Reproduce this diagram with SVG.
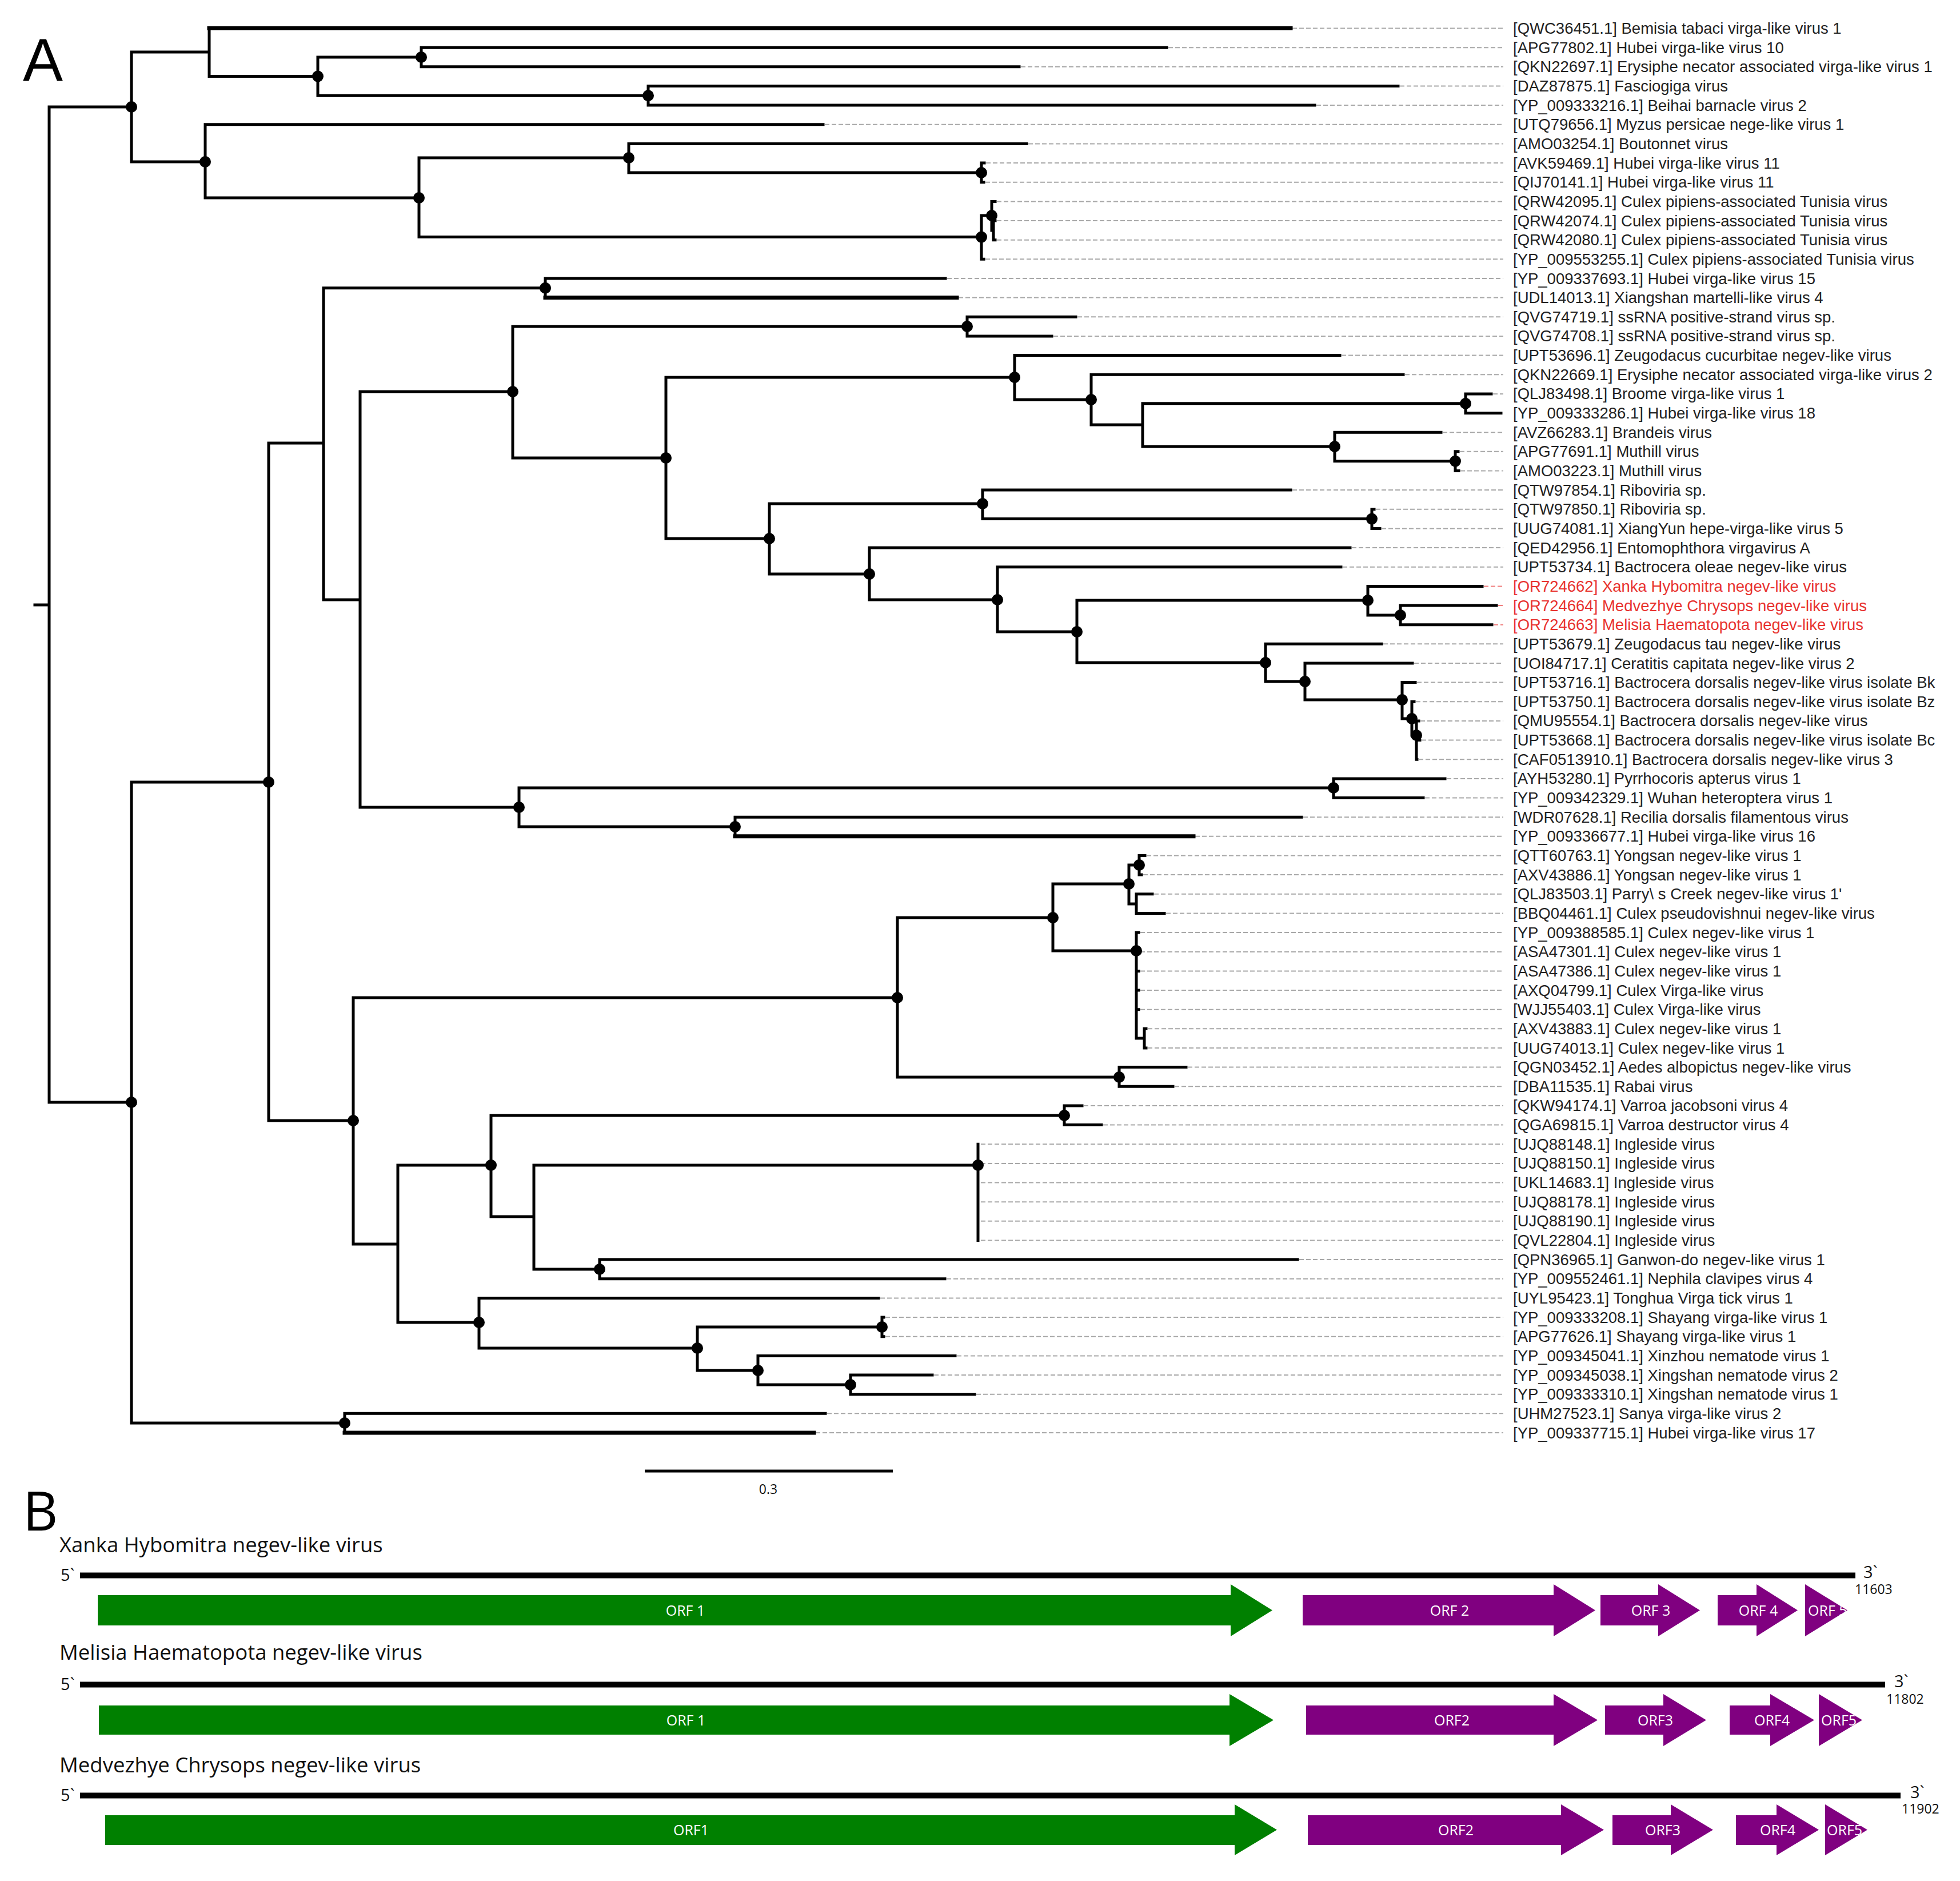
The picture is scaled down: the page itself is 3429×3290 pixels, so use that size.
<svg xmlns="http://www.w3.org/2000/svg" width="3429" height="3290" viewBox="0 0 3429 3290">
<style>
.br{fill:none;stroke:#000;stroke-width:5;stroke-linecap:square}
.thk{fill:none;stroke:#000;stroke-width:7;stroke-linecap:square}
.dot{fill:#000}
.dl{fill:none;stroke:#a8a8a8;stroke-width:2;stroke-dasharray:8 4}
.dlr{fill:none;stroke:#f08080;stroke-width:2;stroke-dasharray:8 4}
.lb{font-family:"Liberation Sans",Arial,sans-serif;font-size:27.5px;fill:#222}
.red{fill:#e8322f}
.ttl{font-family:"Open Sans","Liberation Sans",sans-serif;font-size:36.5px;fill:#111}
.end{font-family:"Open Sans","Liberation Sans",sans-serif;font-size:29px;fill:#111}
.len{font-family:"Open Sans","Liberation Sans",sans-serif;font-size:23px;fill:#111}
.orf{font-family:"Open Sans","Liberation Sans",sans-serif;font-size:25px;fill:#fff;text-anchor:middle}
.orfs{font-family:"Open Sans","Liberation Sans",sans-serif;font-size:25px;fill:#fff}
.g{fill:#008000}
.p{fill:#800080}
.gl{stroke:#000;stroke-width:10;fill:none}
</style>
<defs>
<clipPath id="c5a"><polygon points="3158,2771 3232,2816.5 3158,2862"/></clipPath>
<clipPath id="c5b"><polygon points="3182,2963 3258,3008.5 3182,3054"/></clipPath>
<clipPath id="c5c"><polygon points="3193,3156 3267,3200.5 3193,3245"/></clipPath>
</defs>
<rect width="3429" height="3290" fill="#fff"/>
<text x="40" y="141" font-family="Liberation Sans,Arial,sans-serif" font-size="105" fill="#000">A</text>
<text x="40" y="2677" font-family="Open Sans,Liberation Sans,sans-serif" font-size="95" fill="#000">B</text>

<g id="extensions">
<path class="dl" d="M2261,49.5H2630M2044,83.2H2630M1786,116.8H2630M2449,150.5H2630M2303,184.1H2630M1443,217.8H2630M1799,251.4H2630M1725,285H2630M1724,318.7H2630M1744,352.4H2630M1744,386H2630M1744,419.7H2630M1724,453.3H2630M1657,487H2630M1677,520.6H2630M1885,554.3H2630M1843,587.9H2630M2347,621.6H2630M2458,655.2H2630M2612,688.9H2630M2524,756.2H2630M2554,789.8H2630M2555,823.5H2630M2261,857.1H2630M2407,890.8H2630M2417,924.4H2630M2365,958H2630M2349,991.7H2630M2420,1126.3H2630M2474,1160H2630M2479,1193.6H2630M2477,1227.3H2630M2485,1261H2630M2487,1294.6H2630M2482,1328.2H2630M2531,1361.9H2630M2493,1395.5H2630M2280,1429.2H2630M2091,1462.8H2630M2006,1496.5H2630M2000,1530.1H2630M2019,1563.8H2630M2040,1597.4H2630M1995,1631H2630M1995,1664.7H2630M1995,1698.4H2630M1995,1732H2630M1995,1765.7H2630M2008,1799.3H2630M2008,1833H2630M2078,1866.6H2630M2055,1900.3H2630M1896,1933.9H2630M1930,1967.6H2630M1716,2001.2H2630M1716,2034.9H2630M1716,2068.5H2630M1716,2102.2H2630M1716,2135.8H2630M1716,2169.5H2630M2273,2203.1H2630M1656,2236.8H2630M1540,2270.4H2630M1549,2304H2630M1549,2337.7H2630M1674,2371.4H2630M1634,2405H2630M1708,2438.7H2630M1447,2472.3H2630M1427,2506H2630"/>
<path class="dlr" d="M2596,1025.4H2630M2621,1059H2630M2613,1092.7H2630"/>
</g>

<g id="connectors">
<path class="br" d="M61,1058H86M86,187V1928
M86,187H230M230,91V283
M230,91H366M366,49.5V133.5M366,49.5H2258
M366,133.5H556M556,100V167.3
M556,100H737M737,83.2V116.8M737,83.2H2041M737,116.8H1783
M556,167.3H1134M1134,150.5V184.1M1134,150.5H2446M1134,184.1H2300
M230,283H359M359,217.8V346M359,217.8H1440
M359,346H733M733,276V414.6
M733,276H1100M1100,251.4V302M1100,251.4H1796
M1100,302H1717M1717,285V318.7M1717,285H1722M1717,318.7H1721
M733,414.6H1717M1717,377V453.3M1717,453.3H1721
M1717,377H1735M1735,352.4V403M1735,352.4H1741
M1735,403H1738M1738,386V419.7M1738,386H1741M1738,419.7H1741
M86,1928H230M230,1368V2489
M230,1368H470M470,775V1960
M470,775H566M566,503.8V1049
M566,503.8H954M954,487V520.6M954,487H1654M954,520.6H1674
M566,1049H630M630,685V1412
M630,685H897M897,571V801
M897,571H1692M1692,554.3V587.9M1692,554.3H1882M1692,587.9H1840
M897,801H1165M1165,660V942
M1165,660H1775M1775,621.6V699M1775,621.6H2344
M1775,699H1909M1909,655.2V743M1909,655.2H2455
M1909,743H1999M1999,705.7V781
M1999,705.7H2564M2564,688.9V722.5M2564,688.9H2609M2564,722.5H2626
M1999,781H2335M2335,756.2V806.6M2335,756.2H2521
M2335,806.6H2546M2546,789.8V823.5M2546,789.8H2551M2546,823.5H2552
M1165,942H1346M1346,881V1004
M1346,881H1719M1719,857.1V907.6M1719,857.1H2258
M1719,907.6H2400M2400,890.8V924.4M2400,890.8H2404M2400,924.4H2414
M1346,1004H1521M1521,958V1049M1521,958H2362
M1521,1049H1745M1745,991.7V1105M1745,991.7H2346
M1745,1105H1884M1884,1050V1159
M1884,1050H2393M2393,1025.4V1076M2393,1025.4H2593
M2393,1076H2450M2450,1059V1092.7M2450,1059H2618M2450,1092.7H2610
M1884,1159H2214M2214,1126.3V1192M2214,1126.3H2417
M2214,1192H2283M2283,1160V1224M2283,1160H2471
M2283,1224H2453M2453,1193.6V1257M2453,1193.6H2476
M2453,1257H2470M2470,1227.3V1286M2470,1227.3H2474
M2470,1286H2478M2478,1261V1328.2M2478,1261H2482M2478,1294.6H2484M2478,1328.2H2479
M630,1412H908M908,1378V1446
M908,1378H2333M2333,1361.9V1395.5M2333,1361.9H2528M2333,1395.5H2490
M908,1446H1286M1286,1429.2V1462.8M1286,1429.2H2277
M470,1960H618M618,1745V2176
M618,1745H1570M1570,1605V1884
M1570,1605H1842M1842,1546V1663
M1842,1546H1975M1975,1513V1581
M1975,1513H1993M1993,1496.5V1530.1M1993,1496.5H2003M1993,1530.1H1997
M1975,1581H1988M1988,1563.8V1597.4M1988,1563.8H2016M1988,1597.4H2037
M1842,1663H1988M1988,1631V1816M1988,1631H1992M1988,1664.7H1992M1988,1698.4H1992M1988,1732H1992M1988,1765.7H1992
M1988,1816H2002M2002,1799.3V1833M2002,1799.3H2005M2002,1833H2005
M1570,1884H1958M1958,1866.6V1900.3M1958,1866.6H2075M1958,1900.3H2052
M618,2176H696M696,2038V2313
M696,2038H859M859,1951V2128
M859,1951H1862M1862,1933.9V1967.6M1862,1933.9H1893M1862,1967.6H1927
M859,2128H934M934,2038V2220
M934,2038H1711M1711,2001.2V2169.5
M934,2220H1049M1049,2203.1V2236.8M1049,2203.1H2270M1049,2236.8H1653
M696,2313H838M838,2270.4V2358M838,2270.4H1537
M838,2358H1220M1220,2321V2397
M1220,2321H1543M1543,2304V2337.7M1543,2304H1546M1543,2337.7H1546
M1220,2397H1326M1326,2371.4V2422M1326,2371.4H1671
M1326,2422H1488M1488,2405V2438.7M1488,2405H1631M1488,2438.7H1705
M230,2489H603M603,2472.3V2506M603,2472.3H1444"/>
<path class="thk" d="M366,49.5H2258M954,520.6H1674M1286,1462.8H2088M603,2506H1424"/>
</g>

<g id="internal-nodes">
<circle class="dot" r="10" cx="230" cy="187"/><circle class="dot" r="10" cx="556" cy="133.5"/><circle class="dot" r="10" cx="737" cy="100"/><circle class="dot" r="10" cx="1134" cy="167.3"/><circle class="dot" r="10" cx="359" cy="283"/><circle class="dot" r="10" cx="1100" cy="276"/><circle class="dot" r="10" cx="733" cy="346"/><circle class="dot" r="10" cx="1717" cy="302"/><circle class="dot" r="10" cx="1735" cy="377"/><circle class="dot" r="10" cx="1717" cy="414.6"/><circle class="dot" r="10" cx="954" cy="503.8"/><circle class="dot" r="10" cx="897" cy="685"/><circle class="dot" r="10" cx="1692" cy="571"/><circle class="dot" r="10" cx="1165" cy="801"/><circle class="dot" r="10" cx="1775" cy="660"/><circle class="dot" r="10" cx="1909" cy="699"/><circle class="dot" r="10" cx="2564" cy="705.7"/><circle class="dot" r="10" cx="2335" cy="781"/><circle class="dot" r="10" cx="2546" cy="806.6"/><circle class="dot" r="10" cx="1346" cy="942"/><circle class="dot" r="10" cx="1719" cy="881"/><circle class="dot" r="10" cx="2400" cy="907.6"/><circle class="dot" r="10" cx="1521" cy="1004"/><circle class="dot" r="10" cx="1745" cy="1049"/><circle class="dot" r="10" cx="1884" cy="1105"/><circle class="dot" r="10" cx="2393" cy="1050"/><circle class="dot" r="10" cx="2450" cy="1076"/><circle class="dot" r="10" cx="2214" cy="1159"/><circle class="dot" r="10" cx="2283" cy="1192"/><circle class="dot" r="10" cx="2453" cy="1224"/><circle class="dot" r="10" cx="2470" cy="1257"/><circle class="dot" r="10" cx="2478" cy="1286"/><circle class="dot" r="10" cx="470" cy="1368"/><circle class="dot" r="10" cx="230" cy="1928"/><circle class="dot" r="10" cx="908" cy="1412"/><circle class="dot" r="10" cx="2333" cy="1378"/><circle class="dot" r="10" cx="1286" cy="1446"/><circle class="dot" r="10" cx="618" cy="1960"/><circle class="dot" r="10" cx="1570" cy="1745"/><circle class="dot" r="10" cx="1842" cy="1605"/><circle class="dot" r="10" cx="1975" cy="1546"/><circle class="dot" r="10" cx="1993" cy="1513"/><circle class="dot" r="10" cx="1988" cy="1663"/><circle class="dot" r="10" cx="1958" cy="1884"/><circle class="dot" r="10" cx="859" cy="2038"/><circle class="dot" r="10" cx="1862" cy="1951"/><circle class="dot" r="10" cx="1711" cy="2038"/><circle class="dot" r="10" cx="1049" cy="2220"/><circle class="dot" r="10" cx="838" cy="2313"/><circle class="dot" r="10" cx="1220" cy="2358"/><circle class="dot" r="10" cx="1543" cy="2321"/><circle class="dot" r="10" cx="1326" cy="2397"/><circle class="dot" r="10" cx="1488" cy="2422"/><circle class="dot" r="10" cx="603" cy="2489"/>
</g>

<g id="leaves" class="lb">
<g id="leaf1"><text x="2647" y="59">[QWC36451.1] Bemisia tabaci virga-like virus 1</text></g>
<g id="leaf2"><text x="2647" y="92.7">[APG77802.1] Hubei virga-like virus 10</text></g>
<g id="leaf3"><text x="2647" y="126.3">[QKN22697.1] Erysiphe necator associated virga-like virus 1</text></g>
<g id="leaf4"><text x="2647" y="160">[DAZ87875.1] Fasciogiga virus</text></g>
<g id="leaf5"><text x="2647" y="193.6">[YP_009333216.1] Beihai barnacle virus 2</text></g>
<g id="leaf6"><text x="2647" y="227.3">[UTQ79656.1] Myzus persicae nege-like virus 1</text></g>
<g id="leaf7"><text x="2647" y="260.9">[AMO03254.1] Boutonnet virus</text></g>
<g id="leaf8"><text x="2647" y="294.6">[AVK59469.1] Hubei virga-like virus 11</text></g>
<g id="leaf9"><text x="2647" y="328.2">[QIJ70141.1] Hubei virga-like virus 11</text></g>
<g id="leaf10"><text x="2647" y="361.9">[QRW42095.1] Culex pipiens-associated Tunisia virus</text></g>
<g id="leaf11"><text x="2647" y="395.5">[QRW42074.1] Culex pipiens-associated Tunisia virus</text></g>
<g id="leaf12"><text x="2647" y="429.2">[QRW42080.1] Culex pipiens-associated Tunisia virus</text></g>
<g id="leaf13"><text x="2647" y="462.8">[YP_009553255.1] Culex pipiens-associated Tunisia virus</text></g>
<g id="leaf14"><text x="2647" y="496.5">[YP_009337693.1] Hubei virga-like virus 15</text></g>
<g id="leaf15"><text x="2647" y="530.1">[UDL14013.1] Xiangshan martelli-like virus 4</text></g>
<g id="leaf16"><text x="2647" y="563.8">[QVG74719.1] ssRNA positive-strand virus sp.</text></g>
<g id="leaf17"><text x="2647" y="597.4">[QVG74708.1] ssRNA positive-strand virus sp.</text></g>
<g id="leaf18"><text x="2647" y="631.1">[UPT53696.1] Zeugodacus cucurbitae negev-like virus</text></g>
<g id="leaf19"><text x="2647" y="664.7">[QKN22669.1] Erysiphe necator associated virga-like virus 2</text></g>
<g id="leaf20"><text x="2647" y="698.4">[QLJ83498.1] Broome virga-like virus 1</text></g>
<g id="leaf21"><text x="2647" y="732">[YP_009333286.1] Hubei virga-like virus 18</text></g>
<g id="leaf22"><text x="2647" y="765.7">[AVZ66283.1] Brandeis virus</text></g>
<g id="leaf23"><text x="2647" y="799.3">[APG77691.1] Muthill virus</text></g>
<g id="leaf24"><text x="2647" y="833">[AMO03223.1] Muthill virus</text></g>
<g id="leaf25"><text x="2647" y="866.6">[QTW97854.1] Riboviria sp.</text></g>
<g id="leaf26"><text x="2647" y="900.3">[QTW97850.1] Riboviria sp.</text></g>
<g id="leaf27"><text x="2647" y="933.9">[UUG74081.1] XiangYun hepe-virga-like virus 5</text></g>
<g id="leaf28"><text x="2647" y="967.6">[QED42956.1] Entomophthora virgavirus A</text></g>
<g id="leaf29"><text x="2647" y="1001.2">[UPT53734.1] Bactrocera oleae negev-like virus</text></g>
<g id="leaf30"><text class="red" x="2647" y="1034.9">[OR724662] Xanka Hybomitra negev-like virus</text></g>
<g id="leaf31"><text class="red" x="2647" y="1068.5">[OR724664] Medvezhye Chrysops negev-like virus</text></g>
<g id="leaf32"><text class="red" x="2647" y="1102.2">[OR724663] Melisia Haematopota negev-like virus</text></g>
<g id="leaf33"><text x="2647" y="1135.8">[UPT53679.1] Zeugodacus tau negev-like virus</text></g>
<g id="leaf34"><text x="2647" y="1169.5">[UOI84717.1] Ceratitis capitata negev-like virus 2</text></g>
<g id="leaf35"><text x="2647" y="1203.1">[UPT53716.1] Bactrocera dorsalis negev-like virus isolate Bk</text></g>
<g id="leaf36"><text x="2647" y="1236.8">[UPT53750.1] Bactrocera dorsalis negev-like virus isolate Bz</text></g>
<g id="leaf37"><text x="2647" y="1270.4">[QMU95554.1] Bactrocera dorsalis negev-like virus</text></g>
<g id="leaf38"><text x="2647" y="1304.1">[UPT53668.1] Bactrocera dorsalis negev-like virus isolate Bc</text></g>
<g id="leaf39"><text x="2647" y="1337.7">[CAF0513910.1] Bactrocera dorsalis negev-like virus 3</text></g>
<g id="leaf40"><text x="2647" y="1371.4">[AYH53280.1] Pyrrhocoris apterus virus 1</text></g>
<g id="leaf41"><text x="2647" y="1405">[YP_009342329.1] Wuhan heteroptera virus 1</text></g>
<g id="leaf42"><text x="2647" y="1438.7">[WDR07628.1] Recilia dorsalis filamentous virus</text></g>
<g id="leaf43"><text x="2647" y="1472.3">[YP_009336677.1] Hubei virga-like virus 16</text></g>
<g id="leaf44"><text x="2647" y="1506">[QTT60763.1] Yongsan negev-like virus 1</text></g>
<g id="leaf45"><text x="2647" y="1539.6">[AXV43886.1] Yongsan negev-like virus 1</text></g>
<g id="leaf46"><text x="2647" y="1573.3">[QLJ83503.1] Parry\ s Creek negev-like virus 1'</text></g>
<g id="leaf47"><text x="2647" y="1606.9">[BBQ04461.1] Culex pseudovishnui negev-like virus</text></g>
<g id="leaf48"><text x="2647" y="1640.6">[YP_009388585.1] Culex negev-like virus 1</text></g>
<g id="leaf49"><text x="2647" y="1674.2">[ASA47301.1] Culex negev-like virus 1</text></g>
<g id="leaf50"><text x="2647" y="1707.9">[ASA47386.1] Culex negev-like virus 1</text></g>
<g id="leaf51"><text x="2647" y="1741.5">[AXQ04799.1] Culex Virga-like virus</text></g>
<g id="leaf52"><text x="2647" y="1775.2">[WJJ55403.1] Culex Virga-like virus</text></g>
<g id="leaf53"><text x="2647" y="1808.8">[AXV43883.1] Culex negev-like virus 1</text></g>
<g id="leaf54"><text x="2647" y="1842.5">[UUG74013.1] Culex negev-like virus 1</text></g>
<g id="leaf55"><text x="2647" y="1876.1">[QGN03452.1] Aedes albopictus negev-like virus</text></g>
<g id="leaf56"><text x="2647" y="1909.8">[DBA11535.1] Rabai virus</text></g>
<g id="leaf57"><text x="2647" y="1943.4">[QKW94174.1] Varroa jacobsoni virus 4</text></g>
<g id="leaf58"><text x="2647" y="1977.1">[QGA69815.1] Varroa destructor virus 4</text></g>
<g id="leaf59"><text x="2647" y="2010.7">[UJQ88148.1] Ingleside virus</text></g>
<g id="leaf60"><text x="2647" y="2044.4">[UJQ88150.1] Ingleside virus</text></g>
<g id="leaf61"><text x="2647" y="2078">[UKL14683.1] Ingleside virus</text></g>
<g id="leaf62"><text x="2647" y="2111.7">[UJQ88178.1] Ingleside virus</text></g>
<g id="leaf63"><text x="2647" y="2145.3">[UJQ88190.1] Ingleside virus</text></g>
<g id="leaf64"><text x="2647" y="2179">[QVL22804.1] Ingleside virus</text></g>
<g id="leaf65"><text x="2647" y="2212.6">[QPN36965.1] Ganwon-do negev-like virus 1</text></g>
<g id="leaf66"><text x="2647" y="2246.3">[YP_009552461.1] Nephila clavipes virus 4</text></g>
<g id="leaf67"><text x="2647" y="2279.9">[UYL95423.1] Tonghua Virga tick virus 1</text></g>
<g id="leaf68"><text x="2647" y="2313.6">[YP_009333208.1] Shayang virga-like virus 1</text></g>
<g id="leaf69"><text x="2647" y="2347.2">[APG77626.1] Shayang virga-like virus 1</text></g>
<g id="leaf70"><text x="2647" y="2380.9">[YP_009345041.1] Xinzhou nematode virus 1</text></g>
<g id="leaf71"><text x="2647" y="2414.5">[YP_009345038.1] Xingshan nematode virus 2</text></g>
<g id="leaf72"><text x="2647" y="2448.2">[YP_009333310.1] Xingshan nematode virus 1</text></g>
<g id="leaf73"><text x="2647" y="2481.8">[UHM27523.1] Sanya virga-like virus 2</text></g>
<g id="leaf74"><text x="2647" y="2515.5">[YP_009337715.1] Hubei virga-like virus 17</text></g>
</g>

<g id="scale-bar">
<line x1="1128" y1="2573" x2="1562" y2="2573" stroke="#000" stroke-width="5"/>
<text x="1344" y="2613" class="len" text-anchor="middle">0.3</text>
</g>

<g id="genome-xanka">
<text class="ttl" x="104" y="2715">Xanka Hybomitra negev-like virus</text>
<text class="end" x="106" y="2765">5`</text>
<line class="gl" x1="140" y1="2755.5" x2="3246" y2="2755.5"/>
<text class="end" x="3260" y="2760">3`</text>
<text class="len" x="3245" y="2788">11603</text>
<polygon class="g" points="171,2790 2153,2790 2153,2771 2226,2816.5 2153,2862 2153,2843 171,2843"/>
<text class="orf" x="1199" y="2825.5">ORF 1</text>
<polygon class="p" points="2279,2790 2718,2790 2718,2771 2791,2816.5 2718,2862 2718,2843 2279,2843"/>
<text class="orf" x="2536" y="2825.5">ORF 2</text>
<polygon class="p" points="2800,2790 2901,2790 2901,2771 2974,2816.5 2901,2862 2901,2843 2800,2843"/>
<text class="orf" x="2888" y="2825.5">ORF 3</text>
<polygon class="p" points="3005,2790 3073,2790 3073,2771 3145,2816.5 3073,2862 3073,2843 3005,2843"/>
<text class="orf" x="3076" y="2825.5">ORF 4</text>
<polygon class="p" points="3158,2771 3232,2816.5 3158,2862"/>
<text class="orfs" x="3163" y="2825.5" clip-path="url(#c5a)">ORF 5</text>
</g>

<g id="genome-melisia">
<text class="ttl" x="104" y="2903">Melisia Haematopota negev-like virus</text>
<text class="end" x="106" y="2956">5`</text>
<line class="gl" x1="140" y1="2946.5" x2="3298" y2="2946.5"/>
<text class="end" x="3314" y="2951">3`</text>
<text class="len" x="3300" y="2980">11802</text>
<polygon class="g" points="173,2983 2151,2983 2151,2963 2228,3008.5 2151,3054 2151,3034 173,3034"/>
<text class="orf" x="1200" y="3017.5">ORF 1</text>
<polygon class="p" points="2285,2983 2718,2983 2718,2963 2795,3008.5 2718,3054 2718,3034 2285,3034"/>
<text class="orf" x="2540" y="3017.5">ORF2</text>
<polygon class="p" points="2808,2983 2910,2983 2910,2963 2985,3008.5 2910,3054 2910,3034 2808,3034"/>
<text class="orf" x="2896" y="3017.5">ORF3</text>
<polygon class="p" points="3026,2983 3097,2983 3097,2963 3174,3008.5 3097,3054 3097,3034 3026,3034"/>
<text class="orf" x="3100" y="3017.5">ORF4</text>
<polygon class="p" points="3182,2963 3258,3008.5 3182,3054"/>
<text class="orfs" x="3186" y="3017.5" clip-path="url(#c5b)">ORF5</text>
</g>

<g id="genome-medvezhye">
<text class="ttl" x="104" y="3100">Medvezhye Chrysops negev-like virus</text>
<text class="end" x="106" y="3150">5`</text>
<line class="gl" x1="140" y1="3140.5" x2="3325" y2="3140.5"/>
<text class="end" x="3342" y="3145">3`</text>
<text class="len" x="3327" y="3172">11902</text>
<polygon class="g" points="184,3175 2160,3175 2160,3156 2234,3200.5 2160,3245 2160,3227 184,3227"/>
<text class="orf" x="1209" y="3209.5">ORF1</text>
<polygon class="p" points="2288,3175 2731,3175 2731,3156 2806,3200.5 2731,3245 2731,3227 2288,3227"/>
<text class="orf" x="2547" y="3209.5">ORF2</text>
<polygon class="p" points="2821,3175 2923,3175 2923,3156 2997,3200.5 2923,3245 2923,3227 2821,3227"/>
<text class="orf" x="2909" y="3209.5">ORF3</text>
<polygon class="p" points="3037,3175 3108,3175 3108,3156 3182,3200.5 3108,3245 3108,3227 3037,3227"/>
<text class="orf" x="3110" y="3209.5">ORF4</text>
<polygon class="p" points="3193,3156 3267,3200.5 3193,3245"/>
<text class="orfs" x="3196" y="3209.5" clip-path="url(#c5c)">ORF5</text>
</g>
</svg>
